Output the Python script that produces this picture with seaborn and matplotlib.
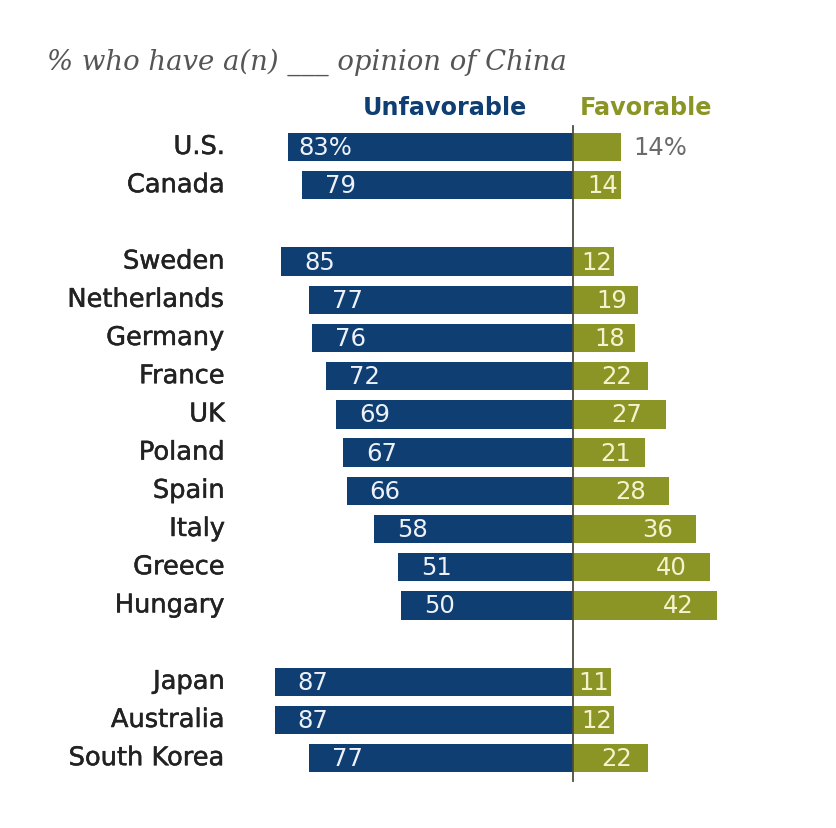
import matplotlib
matplotlib.use("Agg")
import matplotlib.pyplot as plt
import matplotlib.patheffects as pe
import seaborn as sns
import pandas as pd
import numpy as np

countries = ["U.S.", "Canada", "Sweden", "Netherlands", "Germany", "France", "UK",
             "Poland", "Spain", "Italy", "Greece", "Hungary", "Japan", "Australia",
             "South Korea"]
group_sizes = [2, 10, 3]
unfavorable = [83, 79, 85, 77, 76, 72, 69, 67, 66, 58, 51, 50, 87, 87, 77]
favorable = [14, 14, 12, 19, 18, 22, 27, 21, 28, 36, 40, 42, 11, 12, 22]

BLUE = "#0e3e72"
OLIVE = "#8b9526"

# row positions with a blank row between regional groups
pos = []
p = 0
for g in group_sizes:
    for _ in range(g):
        pos.append(p)
        p += 1
    p += 1

rows = []
for c, y, u, f in zip(countries, pos, unfavorable, favorable):
    rows.append({"country": c, "pos": y, "value": -u, "side": "Unfavorable"})
    rows.append({"country": c, "pos": y, "value": f, "side": "Favorable"})
df = pd.DataFrame(rows)

W, H = 837, 829
fig = plt.figure(figsize=(W / 100, H / 100), dpi=100)
ax = fig.add_axes([0, 0, 1, 1])

sns.barplot(data=df, x="value", y="pos", hue="side", orient="h",
            native_scale=True, dodge=False, width=0.74, saturation=1,
            palette={"Unfavorable": BLUE, "Favorable": OLIVE}, legend=False,
            ax=ax)

k = 3.43          # pixels per percentage point
cx = 573          # pixel x of zero line
ry0, rdy = 148, 38.2
ax.set_xlim(-cx / k, (W - cx) / k)
ax.set_ylim((H - ry0) / rdy, -ry0 / rdy)
ax.axis("off")

def py(ypix):
    return (ypix - ry0) / rdy

def px(xpix):
    return (xpix - cx) / k

ax.plot([0, 0], [py(127), py(782)], color="#4d4d3d", lw=1.3, zorder=5)

numfont = dict(family="DejaVu Sans", fontsize=17.5)
label_fx = [pe.withStroke(linewidth=0.35, foreground="#222222")]
for i, (c, y, u, f) in enumerate(zip(countries, pos, unfavorable, favorable)):
    ax.text(px(225), y, c, ha="right", va="center", fontsize=18.5,
            color="#222222", family="DejaVu Sans", path_effects=label_fx)
    if i == 0:
        ax.text(-u + 10 / k, y, f"{u}%", ha="left", va="center",
                color="#eef2f8", **numfont)
        ax.text(f + 12 / k, y, f"{f}%", ha="left", va="center",
                color="#6b6b6b", **numfont)
    else:
        ax.text(-u + 23 / k, y, f"{u}", ha="left", va="center",
                color="#eef2f8", **numfont)
        slack = f * k - 33
        pad = np.clip(0.5 * slack - 5, 2, 23) / k
        ax.text(f - pad, y, f"{f}", ha="right", va="center",
                color="#f6f2d0", **numfont)

ax.text(px(527), py(108), "Unfavorable", ha="right", va="center", fontsize=17.2,
        fontweight="bold", color=BLUE, family="DejaVu Sans")
ax.text(px(580), py(108), "Favorable", ha="left", va="center", fontsize=17.2,
        fontweight="bold", color=OLIVE, family="DejaVu Sans")
ax.text(px(47), py(62), "% who have a(n) ___ opinion of China", ha="left",
        va="center", fontsize=19.8, style="italic", color="#555555",
        family="DejaVu Serif")

fig.savefig("out.png", dpi=100, facecolor="white")
